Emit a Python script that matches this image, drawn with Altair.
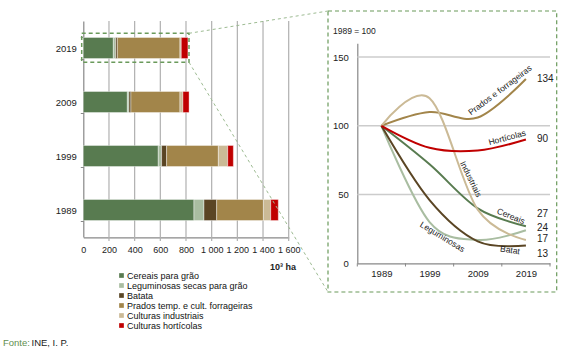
import altair as alt
import pandas as pd

FONT = "Liberation Sans"

# ---------------- data ----------------
years = ["1989", "1999", "2009", "2019"]
year_num = [1989, 1999, 2009, 2019]
crops = ["Cereais para grão", "Leguminosas secas para grão", "Batata",
         "Prados temp. e cult. forrageiras", "Culturas industriais", "Culturas hortícolas"]
short_names = ["Cereais", "Leguminosas", "Batat", "Prados e forrageiras", "Industriais", "Hortícolas"]
colors = ["#587b50", "#a9bda1", "#5a4524", "#a2854a", "#cbba96", "#c00000"]

# area (10^3 ha) for 1989, 1999, 2009, 2019
area_cereais = [862, 584, 343, 234]
area_leguminosas = [78, 26, 13, 18]
area_batata = [99, 39, 15, 13]
area_prados = [364, 403, 382, 488]
area_industriais = [57, 73, 23, 10]
area_horticolas = [59, 44, 48, 52]

# index 1989 = 100
idx_cereais = [100, 72, 40, 27]
idx_leguminosas = [100, 30, 17, 24]
idx_batata = [100, 46, 16, 13]
idx_prados = [100, 110, 106, 134]
idx_industriais = [100, 120, 39, 17]
idx_horticolas = [100, 84, 82, 90]

areas = [area_cereais, area_leguminosas, area_batata, area_prados, area_industriais, area_horticolas]
idxs = [idx_cereais, idx_leguminosas, idx_batata, idx_prados, idx_industriais, idx_horticolas]

x_ticks_left = [0, 200, 400, 600, 800, 1000, 1200, 1400, 1600]
y_ticks_right = [0, 50, 100, 150]

# ---------------- layout (label placement in data coordinates) ----------------
name_pos_x = [2015.9, 2001.7, 2015.7, 2013.6, 2007.6, 2015.1]
name_pos_y = [34.4, 19.3, 9.7, 126, 61.3, 91.5]
name_angle = [22, 31, 8, 323, 64, 345]
value_pos_x = 2021.3
value_pos_y = [35.9, 25.5, 6.8, 133.8, 17.5, 90.2]

# ---------------- tables ----------------
bar_rows = []
for ci, c in enumerate(crops):
    for yi, y in enumerate(years):
        bar_rows.append({"year": y, "crop": c, "area": areas[ci][yi], "ord": ci})
bars_df = pd.DataFrame(bar_rows)

line_rows = []
for ci, c in enumerate(crops):
    for yi, y in enumerate(year_num):
        line_rows.append({"yr": y, "crop": c, "idx": idxs[ci][yi]})
lines_df = pd.DataFrame(line_rows)

name_df = pd.DataFrame({"lx": name_pos_x, "ly": name_pos_y, "t": short_names, "a": name_angle})
val_df = pd.DataFrame({"lx": [value_pos_x] * 6, "ly": value_pos_y, "t": [str(v[-1]) for v in idxs]})

one = pd.DataFrame({"k": [0]})

color_scale = alt.Scale(domain=crops, range=colors)

AXC = "#888888"
LBL = "#222222"

# ---------------- left chart ----------------
X_L = alt.Scale(domain=[0, 1600], range=[83.3, 288.7], nice=False, zero=False)
Y_L = alt.Scale(domain=years[::-1], range=[21, 237], paddingInner=0.61, paddingOuter=0.305)
AX_LX = alt.Axis(orient="bottom", offset=-115.7, values=x_ticks_left, title=None,
                 grid=False, ticks=False, domainColor=AXC, domainWidth=1.2,
                 labelFontSize=9, labelColor=LBL, labelPadding=8, labelOverlap=False,
                 labelFlush=False,
                 labelExpr="replace(format(datum.value, ','), ',', ' ')")
AX_LY = alt.Axis(orient="left", offset=-83.3, title=None, tickBand="extent",
                 tickSize=3, tickColor=AXC, domainColor=AXC, domainWidth=1.2,
                 labelFontSize=9.5, labelColor=LBL, labelPadding=4, grid=False)

grid_l = alt.Chart(pd.DataFrame({"g": x_ticks_left[1:]})).mark_rule(
    color="#b0b0b0", strokeWidth=1.2
).encode(
    x=alt.X("g:Q", scale=X_L, axis=AX_LX),
    y=alt.value(21), y2=alt.value(241),
)

bars = alt.Chart(bars_df).mark_bar(stroke="white", strokeWidth=0.4).encode(
    x=alt.X("area:Q", stack="zero", scale=X_L, axis=AX_LX),
    y=alt.Y("year:N", scale=Y_L, sort=years[::-1], axis=AX_LY),
    color=alt.Color("crop:N", scale=color_scale,
                    legend=alt.Legend(orient="none", legendX=117, legendY=271, title=None,
                                      symbolType="square", symbolSize=22, symbolStrokeWidth=0,
                                      labelFontSize=9, labelColor="#111111", rowPadding=0,
                                      labelOffset=1, padding=0)),
    order=alt.Order("ord:Q"),
)

left = alt.layer(grid_l, bars)

# ---------------- right chart ----------------
X_R = alt.Scale(domain=[1984, 2024], range=[357.3, 550], nice=False, zero=False)
Y_R = alt.Scale(domain=[0, 160], range=[263.3, 43.3], nice=False)
AX_RX = alt.Axis(orient="bottom", offset=-89.7, values=year_num, format="d", title=None,
                 grid=False, ticks=False, domainColor=AXC, domainWidth=1.2,
                 labelFontSize=9.5, labelColor=LBL, labelPadding=5, labelFlush=False)
AX_RY = alt.Axis(orient="left", offset=-357.3, values=y_ticks_right, title=None,
                 grid=False, ticks=False, domainColor=AXC, domainWidth=1.2,
                 labelFontSize=9.5, labelColor=LBL, labelPadding=9, labelFlush=False)

grid_r = alt.Chart(pd.DataFrame({"g": y_ticks_right[1:]})).mark_rule(
    color="#cccccc", strokeWidth=1.5
).encode(
    y=alt.Y("g:Q", scale=Y_R, axis=AX_RY),
    x=alt.value(357.3), x2=alt.value(550),
)

ticks_r = alt.Chart(pd.DataFrame({"t": [1984, 1994, 2004, 2014, 2024]})).mark_rule(
    color=AXC, strokeWidth=1
).encode(
    x=alt.X("t:Q", scale=X_R, axis=AX_RX),
    y=alt.value(263.3), y2=alt.value(266.5),
)

lines = alt.Chart(lines_df).mark_line(interpolate="cardinal", strokeWidth=2).encode(
    x=alt.X("yr:Q", scale=X_R, axis=AX_RX),
    y=alt.Y("idx:Q", scale=Y_R, axis=AX_RY),
    stroke=alt.Stroke("crop:N", scale=color_scale, legend=None),
    detail="crop:N",
)

names = alt.Chart(name_df).mark_text(font=FONT, fontSize=8.5, color=LBL).encode(
    x=alt.X("lx:Q", scale=X_R, axis=AX_RX),
    y=alt.Y("ly:Q", scale=Y_R, axis=AX_RY),
    text="t:N",
    angle=alt.Angle("a:Q", scale=None),
)

vals = alt.Chart(val_df).mark_text(font=FONT, fontSize=10, color=LBL, align="left").encode(
    x=alt.X("lx:Q", scale=X_R, axis=AX_RX),
    y=alt.Y("ly:Q", scale=Y_R, axis=AX_RY),
    text="t:N",
)

right = alt.layer(grid_r, ticks_r, lines, names, vals)

# ---------------- decorations ----------------
BOX = "#6a9a5b"
box_small = alt.Chart(one).mark_rect(fillOpacity=0, stroke=BOX, strokeWidth=1.5, strokeDash=[4, 3]).encode(
    x=alt.value(81.7), x2=alt.value(189), y=alt.value(33.3), y2=alt.value(62.3))
box_big = alt.Chart(one).mark_rect(fillOpacity=0, stroke=BOX, strokeWidth=1.2, strokeDash=[4, 3]).encode(
    x=alt.value(328), x2=alt.value(556.7), y=alt.value(11), y2=alt.value(292))
conn1 = alt.Chart(one).mark_rule(stroke="#9dbb92", strokeWidth=1, strokeDash=[3, 3]).encode(
    x=alt.value(189), y=alt.value(33.3), x2=alt.value(328), y2=alt.value(11))
conn2 = alt.Chart(one).mark_rule(stroke="#9dbb92", strokeWidth=1, strokeDash=[3, 3]).encode(
    x=alt.value(189), y=alt.value(62.3), x2=alt.value(328), y2=alt.value(292))

t_base = alt.Chart(one).mark_text(font=FONT, fontSize=8.5, color=LBL, align="left",
                                  text="1989 = 100").encode(x=alt.value(333), y=alt.value(31))
t_unit = alt.Chart(one).mark_text(font=FONT, fontSize=9, fontWeight="bold", color=LBL,
                                  align="left", text="10³ ha").encode(x=alt.value(270), y=alt.value(267))
t_src1 = alt.Chart(one).mark_text(font=FONT, fontSize=9.5, color="#5f8f4f", align="left",
                                  text="Fonte:").encode(x=alt.value(3), y=alt.value(343))
t_src2 = alt.Chart(one).mark_text(font=FONT, fontSize=9.5, color=LBL, align="left",
                                  text="INE, I. P.").encode(x=alt.value(31.5), y=alt.value(343))

chart = alt.layer(
    left, right, box_small, box_big, conn1, conn2, t_base, t_unit, t_src1, t_src2
).resolve_scale(
    x="independent", y="independent"
).properties(
    width=584, height=353, autosize=alt.AutoSizeParams(type="none"), padding=0
).configure(font=FONT).configure_view(stroke=None)

chart.save("out.html", embed_options={"renderer": "svg", "actions": False})
